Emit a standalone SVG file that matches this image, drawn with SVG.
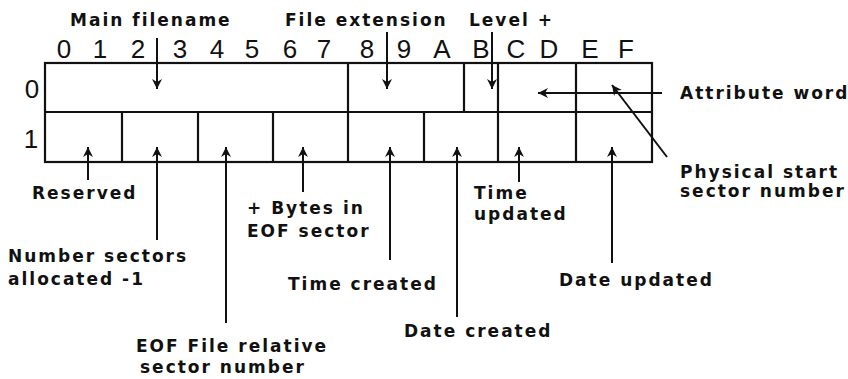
<svg xmlns="http://www.w3.org/2000/svg" width="848" height="379" viewBox="0 0 848 379">
<style>
.bg{fill:#fff}
.box{fill:none;stroke:#111;stroke-width:2.2}
.ln{fill:none;stroke:#111;stroke-width:2}
.hex{font-family:"Liberation Sans",Arial,sans-serif;font-size:26px;fill:#111;text-anchor:middle}
.lbl{font-family:"DejaVu Sans","Liberation Sans",sans-serif;font-weight:bold;font-size:17px;letter-spacing:2px;fill:#111}
.row{font-family:"Liberation Sans",Arial,sans-serif;font-size:26px;fill:#111;text-anchor:middle}
</style>
<defs>
<marker id="ah" viewBox="0 0 10 10" refX="10" refY="5" markerWidth="10" markerHeight="10" orient="auto" markerUnits="userSpaceOnUse">
<path d="M0,0 L10,5 L0,10 L3,5 z" fill="#111"/>
</marker>
</defs>
<rect class="bg" width="848" height="379"/>

<g id="ruler">
<text class="hex" x="64" y="58">0</text>
<text class="hex" x="100" y="58">1</text>
<text class="hex" x="138" y="58">2</text>
<text class="hex" x="180" y="58">3</text>
<text class="hex" x="217" y="58">4</text>
<text class="hex" x="252" y="58">5</text>
<text class="hex" x="290" y="58">6</text>
<text class="hex" x="324" y="58">7</text>
<text class="hex" x="367" y="58">8</text>
<text class="hex" x="404" y="58">9</text>
<text class="hex" x="442" y="58">A</text>
<text class="hex" x="481" y="58">B</text>
<text class="hex" x="516" y="58">C</text>
<text class="hex" x="549" y="58">D</text>
<text class="hex" x="590" y="58">E</text>
<text class="hex" x="626" y="58">F</text>
</g>

<g id="row-labels">
<text class="row" x="32" y="98">0</text>
<text class="row" x="31" y="148">1</text>
</g>

<g id="record">
<rect class="box" x="45" y="63" width="607" height="99"/>
<line class="box" x1="45" y1="112" x2="652" y2="112"/>
<line class="box" x1="348" y1="63" x2="348" y2="162"/>
<line class="box" x1="464" y1="63" x2="464" y2="112"/>
<line class="box" x1="498" y1="63" x2="498" y2="162"/>
<line class="box" x1="576" y1="63" x2="576" y2="162"/>
<line class="box" x1="122" y1="112" x2="122" y2="162"/>
<line class="box" x1="198" y1="112" x2="198" y2="162"/>
<line class="box" x1="273" y1="112" x2="273" y2="162"/>
<line class="box" x1="424" y1="112" x2="424" y2="162"/>
</g>

<g id="labels">
<text class="lbl" x="70" y="26">Main filename</text>
<text class="lbl" x="285" y="26">File extension</text>
<text class="lbl" x="469" y="26">Level +</text>
<text class="lbl" x="680" y="99">Attribute word</text>
<text class="lbl" x="680" y="178">Physical start</text>
<text class="lbl" x="680" y="197">sector number</text>
<text class="lbl" x="32" y="199">Reserved</text>
<text class="lbl" x="8" y="262">Number sectors</text>
<text class="lbl" x="8" y="285">allocated -1</text>
<text class="lbl" x="136" y="352">EOF File relative</text>
<text class="lbl" x="140" y="373">sector number</text>
<text class="lbl" x="247" y="214">+ Bytes in</text>
<text class="lbl" x="247" y="237">EOF sector</text>
<text class="lbl" x="288" y="290">Time created</text>
<text class="lbl" x="404" y="337">Date created</text>
<text class="lbl" x="474" y="199">Time</text>
<text class="lbl" x="474" y="220">updated</text>
<text class="lbl" x="559" y="286">Date updated</text>
</g>

<g id="connectors">
<line class="ln" x1="157" y1="38" x2="157" y2="89" marker-end="url(#ah)"/>
<line class="ln" x1="387" y1="32" x2="387" y2="89" marker-end="url(#ah)"/>
<line class="ln" x1="492" y1="32" x2="492" y2="89" marker-end="url(#ah)"/>
<line class="ln" x1="662" y1="93" x2="538" y2="93" marker-end="url(#ah)"/>
<line class="ln" x1="667" y1="157" x2="612" y2="85" marker-end="url(#ah)"/>
<line class="ln" x1="88" y1="180" x2="88" y2="147" marker-end="url(#ah)"/>
<line class="ln" x1="157" y1="240" x2="157" y2="147" marker-end="url(#ah)"/>
<line class="ln" x1="226" y1="323" x2="226" y2="147" marker-end="url(#ah)"/>
<line class="ln" x1="303" y1="192" x2="303" y2="147" marker-end="url(#ah)"/>
<line class="ln" x1="390" y1="260" x2="390" y2="147" marker-end="url(#ah)"/>
<line class="ln" x1="457" y1="317" x2="457" y2="147" marker-end="url(#ah)"/>
<line class="ln" x1="519" y1="182" x2="519" y2="147" marker-end="url(#ah)"/>
<line class="ln" x1="612" y1="263" x2="612" y2="147" marker-end="url(#ah)"/>
</g>
</svg>
